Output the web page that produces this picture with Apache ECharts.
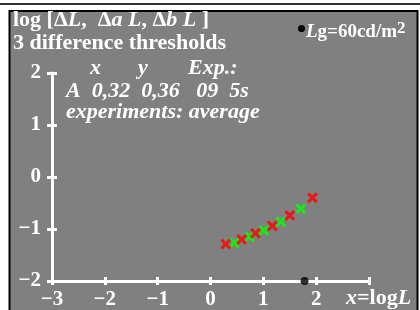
<!DOCTYPE html>
<html>
<head>
<meta charset="utf-8">
<script src="https://cdn.jsdelivr.net/npm/echarts@6/dist/echarts.min.js"></script>
<style>
  html, body { margin: 0; padding: 0; background: #fff; }
  #chart { width: 420px; height: 310px; }
</style>
</head>
<body>
<div id="chart"></div>
<script>
// threshold data (x = log L, y = log threshold)
var redX   = [0.29, 0.59, 0.85, 1.17, 1.50, 1.93];
var redY   = [-1.29, -1.20, -1.08, -0.94, -0.74, -0.40];
var greenX = [0.45, 0.74, 1.01, 1.33, 1.71];
var greenY = [-1.27, -1.15, -1.03, -0.86, -0.61];
var adaptX = [1.78];
var adaptY = [-2];
var xTicks = [-3, -2, -1, 0, 1, 2];
var yTicks = [-2, -1, 0, 1, 2];

function pairs(xs, ys) {
    var out = [];
    for (var i = 0; i < xs.length; i++) out.push([xs[i], ys[i]]);
    return out;
}

function minus(v) {
    return v < 0 ? '\u2212' + Math.abs(v) : String(v);
}

var cross = 'path://M0,2 L2,0 L5,3 L8,0 L10,2 L7,5 L10,8 L8,10 L5,7 L2,10 L0,8 L3,5 Z';
var serif = '"Liberation Serif", "DejaVu Serif", serif';
var white = '#ffffff';
var big = 'bold 22px ' + serif;
var bigItalic = 'italic bold 22px ' + serif;
var italicRich = { fontStyle: 'italic', fontWeight: 'bold', fontSize: 22, fontFamily: serif, fill: white };

var chart = echarts.init(document.getElementById('chart'));

var labelStyle = {
    color: white, fontFamily: serif, fontWeight: 'bold', fontSize: 21
};

var option = {
    backgroundColor: '#ffffff',
    animation: false,
    grid: { left: 52, right: 51, top: 73, bottom: 27 },
    graphic: [
        { type: 'line', shape: { x1: 0, y1: 4, x2: 420, y2: 4 }, style: { stroke: '#333', lineWidth: 2 }, z: -10 },
        { type: 'rect', shape: { x: 9.5, y: 11, width: 408, height: 310 }, style: { fill: '#808080', stroke: '#000', lineWidth: 2 }, z: -10 },
        { type: 'text', left: 13, top: 9, style: {
            text: 'log [\u0394{i|L},  \u0394{i|a L}, \u0394{i|b L} ]',
            fill: white, font: big, rich: { i: italicRich }
        } },
        { type: 'text', left: 13, top: 32, style: { text: '3 difference thresholds', fill: white, font: big } },
        { type: 'text', left: 90, top: 57, style: { text: 'x', fill: white, font: bigItalic } },
        { type: 'text', left: 138, top: 57, style: { text: 'y', fill: white, font: bigItalic } },
        { type: 'text', left: 188, top: 57, style: { text: 'Exp.:', fill: white, font: bigItalic } },
        { type: 'text', left: 66, top: 80, style: { text: 'A  0,32  0,36   09  5s', fill: white, font: bigItalic } },
        { type: 'text', left: 66, top: 101, style: { text: 'experiments: average', fill: white, font: bigItalic } },
        { type: 'circle', shape: { cx: 301.5, cy: 28.5, r: 3.5 }, style: { fill: '#000' } },
        { type: 'text', left: 306, top: 20, style: {
            text: '{i|L}g=60cd/m{s|2}', fill: white, font: 'bold 19px ' + serif,
            rich: {
                i: { fontStyle: 'italic', fontWeight: 'bold', fontSize: 19, fontFamily: serif, fill: white },
                s: { fontWeight: 'bold', fontSize: 17, fontFamily: serif, fill: white, verticalAlign: 'top', padding: [0, 0, 8, 0] }
            }
        } },
        { type: 'text', left: 346, top: 287, style: {
            text: '{i|x}=log{i|L}', fill: white, font: big, rich: { i: italicRich }
        } }
    ],
    xAxis: [{
        type: 'value', min: -3, max: 3, interval: 1, position: 'bottom',
        splitLine: { show: false },
        axisLine: { onZero: false, lineStyle: { color: white, width: 3 } },
        axisTick: { show: true, length: 4, lineStyle: { color: white, width: 3 } },
        axisLabel: Object.assign({ margin: 8, formatter: function (v) {
            return xTicks.indexOf(v) >= 0 ? minus(v) : '';
        } }, labelStyle)
    }, {
        type: 'value', min: -3, max: 3, interval: 1, position: 'bottom', offset: 0,
        splitLine: { show: false },
        axisLine: { show: false, onZero: false },
        axisTick: { show: true, inside: true, length: 4, lineStyle: { color: white, width: 3 } },
        axisLabel: { show: false }
    }],
    yAxis: [{
        type: 'value', min: -2, max: 2, interval: 1, position: 'left',
        splitLine: { show: false },
        axisLine: { onZero: false, lineStyle: { color: white, width: 3 } },
        axisTick: { show: true, length: 5, lineStyle: { color: white, width: 3 } },
        axisLabel: Object.assign({ margin: 11, padding: [0, 0, 4, 0], formatter: function (v) {
            return yTicks.indexOf(v) >= 0 ? minus(v) : '';
        } }, labelStyle)
    }, {
        type: 'value', min: -2, max: 2, interval: 1, position: 'left', offset: 0,
        splitLine: { show: false },
        axisLine: { show: false, onZero: false },
        axisTick: { show: true, inside: true, length: 5, lineStyle: { color: white, width: 3 } },
        axisLabel: { show: false }
    }],
    series: [
        {
            type: 'scatter', data: pairs(redX, redY), symbol: cross, symbolSize: 11,
            itemStyle: { color: '#ff0000' }, z: 5
        },
        {
            type: 'scatter', data: pairs(greenX, greenY), symbol: cross, symbolSize: 11,
            itemStyle: { color: '#00ff00' }, z: 4
        },
        {
            type: 'scatter', data: pairs(adaptX, adaptY), symbol: 'circle', symbolSize: 8,
            itemStyle: { color: '#000000' }, clip: false, z: 6
        }
    ]
};

chart.setOption(option);
</script>
</body>
</html>
